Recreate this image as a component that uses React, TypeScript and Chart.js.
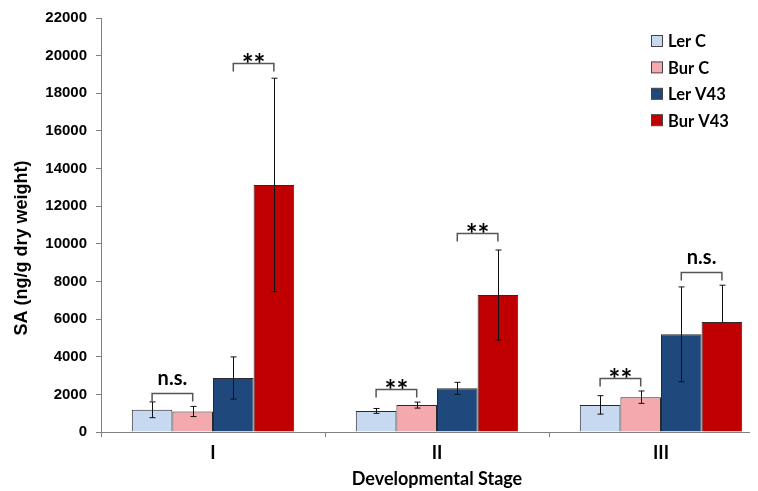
import { useEffect, useRef } from 'react';
import { Chart, registerables } from 'chart.js';

Chart.register(...registerables);

const categories = ['I', 'II', 'III'];
const seriesNames = ['Ler C', 'Bur C', 'Ler V43', 'Bur V43'];
const lerC = [1180, 1120, 1440];
const burC = [1090, 1430, 1850];
const lerV43 = [2870, 2320, 5190];
const burV43 = [13130, 7280, 5840];
// upper error amounts
const lerCErr = [420, 130, 490];
const burCErr = [270, 160, 330];
const lerV43Err = [1120, 320, 2520];
const burV43Err = [5670, 2390, 1960];
// lower error amounts (the last one is hidden inside its bar in the original)
const lerCErrLow = [420, 130, 490];
const burCErrLow = [270, 160, 330];
const lerV43ErrLow = [1120, 320, 2520];
const burV43ErrLow = [5670, 2390, 0];
const seriesColors = ['#C6D9F1', '#F4A9AE', '#1F497D', '#C00000'];

// significance brackets
const bracketCategory = [0, 0, 1, 1, 2, 2];
const bracketFrom = [0, 2, 0, 2, 0, 2];
const bracketTo = [1, 3, 1, 3, 1, 3];
const bracketValue = [2070, 19600, 2285, 10575, 2870, 8500];
const bracketLabel = ['n.s.', '**', '**', '**', '**', 'n.s.'];

const yMin = 0;
const yMax = 22000;
const yStep = 2000;

const yTitle = 'SA (ng/g dry weight)';
const xTitle = 'Developmental Stage';

const seriesValues = [lerC, burC, lerV43, burV43];
const seriesErrors = [lerCErr, burCErr, lerV43Err, burV43Err];
const seriesErrorsLow = [lerCErrLow, burCErrLow, lerV43ErrLow, burV43ErrLow];

const calibri = 'Lato, "Open Sans", sans-serif';
const arial = '"Liberation Sans", Arial, sans-serif';

const overlayPlugin = {
  id: 'overlay',
  afterDatasetsDraw(chart: any) {
    const ctx = chart.ctx;
    const y = chart.scales.y;
    ctx.save();
    // error bars
    ctx.strokeStyle = '#111';
    ctx.lineWidth = 1;
    chart.data.datasets.forEach((ds: any, di: number) => {
      const meta = chart.getDatasetMeta(di);
      meta.data.forEach((bar: any, i: number) => {
        const v = seriesValues[di][i];
        const e = seriesErrors[di][i];
        const el = seriesErrorsLow[di][i];
        const x = Math.round(bar.x) + 0.5;
        const yt = y.getPixelForValue(v + e);
        const yb = y.getPixelForValue(v - el);
        ctx.beginPath();
        ctx.moveTo(x, yt);
        ctx.lineTo(x, yb);
        ctx.moveTo(x - 3, yt);
        ctx.lineTo(x + 3, yt);
        if (el > 0) {
          ctx.moveTo(x - 3, yb);
          ctx.lineTo(x + 3, yb);
        }
        ctx.stroke();
      });
    });
    // brackets
    ctx.strokeStyle = '#555';
    ctx.lineWidth = 1.5;
    ctx.fillStyle = '#000';
    ctx.textAlign = 'center';
    ctx.textBaseline = 'alphabetic';
    bracketValue.forEach((bv, k) => {
      const c = bracketCategory[k];
      const x1 = chart.getDatasetMeta(bracketFrom[k]).data[c].x;
      const x2 = chart.getDatasetMeta(bracketTo[k]).data[c].x;
      const by = Math.round(y.getPixelForValue(bv)) + 0.5;
      ctx.beginPath();
      ctx.moveTo(x1, by + 8);
      ctx.lineTo(x1, by);
      ctx.lineTo(x2, by);
      ctx.lineTo(x2, by + 8);
      ctx.stroke();
      const label = bracketLabel[k];
      if (label === '**') {
        ctx.font = `bold 28px ${calibri}`;
        ctx.fillText(label, (x1 + x2) / 2, by + 10);
      } else {
        ctx.font = `bold 20px ${calibri}`;
        ctx.fillText(label, (x1 + x2) / 2, by - 9);
      }
    });
    // legend
    ctx.textAlign = 'left';
    ctx.textBaseline = 'middle';
    ctx.font = `bold 16.5px ${calibri}`;
    seriesNames.forEach((name, i) => {
      const ly = 41 - 8 + i * 26.4;
      ctx.fillStyle = seriesColors[i];
      ctx.fillRect(643.5, ly - 5.5, 11, 11);
      ctx.strokeStyle = '#444';
      ctx.lineWidth = 1;
      ctx.strokeRect(643.5, ly - 5.5, 11, 11);
      ctx.fillStyle = '#000';
      ctx.fillText(name, 660, ly + 1);
    });
    // y title
    ctx.save();
    ctx.translate(14, 248 - 8);
    ctx.rotate(-Math.PI / 2);
    ctx.textAlign = 'center';
    ctx.textBaseline = 'middle';
    ctx.font = `bold 18px ${arial}`;
    ctx.fillStyle = '#000';
    ctx.fillText(yTitle, 0, 0);
    ctx.restore();
    ctx.restore();
  },
};

export default function App() {
  const ref = useRef<HTMLCanvasElement | null>(null);
  useEffect(() => {
    if (!ref.current) return;
    const chart = new Chart(ref.current, {
      type: 'bar',
      data: {
        labels: categories,
        datasets: seriesNames.map((name, i) => ({
          label: name,
          data: seriesValues[i],
          backgroundColor: seriesColors[i],
          borderColor: '#2a2a2a',
          borderWidth: 1,
          categoryPercentage: 0.725,
          barPercentage: 1,
        })),
      },
      options: {
        responsive: false,
        animation: false,
        layout: { padding: { top: 10, right: 5, bottom: 0, left: 0 } },
        plugins: {
          legend: { display: false },
          tooltip: { enabled: false },
          title: { display: false },
        },
        scales: {
          x: {
            grid: {
              display: true,
              drawOnChartArea: false,
              drawTicks: true,
              tickLength: 5,
              color: '#808080',
            },
            border: { display: true, color: '#808080', width: 1 },
            ticks: {
              color: '#000',
              padding: 5,
              font: { family: calibri, size: 18, weight: 'bold' },
            },
            title: {
              display: true,
              text: xTitle,
              color: '#000',
              font: { family: calibri, size: 18, weight: 'bold' },
              padding: { top: 0, bottom: 1 },
            },
            afterFit(scale: any) {
              scale.height = 59;
              scale.paddingLeft = 0;
              scale.paddingRight = 0;
            },
          },
          y: {
            min: yMin,
            max: yMax,
            grid: {
              display: true,
              drawOnChartArea: false,
              drawTicks: true,
              tickLength: 5,
              color: '#808080',
            },
            border: { display: true, color: '#808080', width: 1 },
            ticks: {
              stepSize: yStep,
              color: '#000',
              padding: 9,
              font: { family: arial, size: 15, weight: 'bold' },
              callback: (v: any) => String(v),
            },
            afterFit(scale: any) {
              scale.width = 93;
              scale.paddingTop = 0;
              scale.paddingBottom = 0;
            },
          },
        },
      },
      plugins: [overlayPlugin],
    } as any);
    return () => chart.destroy();
  }, []);
  return (
    <div style={{ width: 750, height: 483, overflow: 'hidden' }}>
      <canvas ref={ref} width={770} height={483} style={{ display: 'block' }} />
    </div>
  );
}
